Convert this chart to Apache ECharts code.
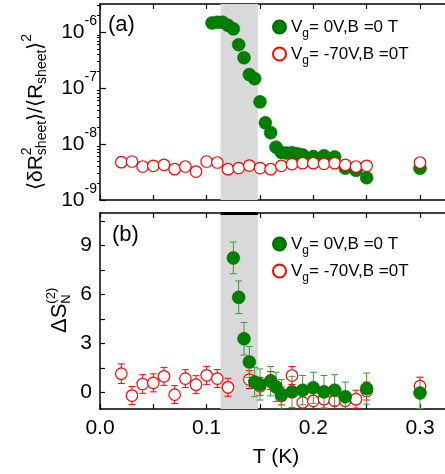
<!DOCTYPE html>
<html>
<head>
<meta charset="utf-8">
<script src="https://cdn.jsdelivr.net/npm/echarts@6/dist/echarts.min.js"></script>
<style>
  html, body { margin: 0; padding: 0; overflow: hidden; background: #fff; }
  #chart { width: 460px; height: 474px; }
</style>
</head>
<body>
<div id="chart"></div>
<script>
// ---- (a) normalized variance of the sheet-resistance noise ----
const tempA_Vg0 = [0.105, 0.11, 0.115, 0.12, 0.125, 0.13, 0.135, 0.14, 0.145, 0.15, 0.155, 0.16, 0.165,
  0.17, 0.175, 0.18, 0.185, 0.19, 0.2, 0.21, 0.22, 0.23, 0.24, 0.25, 0.3];
const varA_Vg0 = [1.47e-6, 1.51e-6, 1.51e-6, 1.33e-6, 1.15e-6, 6.0e-7, 3.5e-7, 1.75e-7, 1.48e-7, 5.7e-8, 2.4e-8, 1.6e-8, 8.8e-9,
  7.1e-9, 6.9e-9, 7.0e-9, 6.7e-9, 6.4e-9, 6.0e-9, 6.2e-9, 5.9e-9, 3.7e-9, 3.4e-9, 2.5e-9, 3.7e-9];

const tempA_Vg70 = [0.02, 0.03, 0.04, 0.05, 0.06, 0.07, 0.08, 0.09, 0.10, 0.11, 0.12, 0.13, 0.14,
  0.15, 0.16, 0.17, 0.18, 0.19, 0.20, 0.21, 0.22, 0.23, 0.24, 0.25, 0.30];
const varA_Vg70 = [4.75e-9, 4.88e-9, 3.97e-9, 4.09e-9, 4.26e-9, 3.56e-9, 3.97e-9, 3.23e-9, 4.88e-9, 4.68e-9, 3.56e-9, 3.72e-9, 4.13e-9,
  3.72e-9, 3.56e-9, 4.09e-9, 4.38e-9, 4.56e-9, 4.56e-9, 4.44e-9, 4.56e-9, 4.26e-9, 3.97e-9, 4.09e-9, 4.68e-9];

// ---- (b) second spectrum, with error bars ----
const tempB_Vg0 = [0.125, 0.13, 0.135, 0.14, 0.145, 0.15, 0.16, 0.165, 0.17, 0.18, 0.19, 0.2, 0.21, 0.22, 0.23, 0.25, 0.3];
const s2B_Vg0 = [8.25, 5.84, 3.3, 1.88, 0.65, 0.5, 0.7, 0.35, -0.1, 0.05, 0.15, 0.3, 0.05, 0.15, -0.25, 0.25, -0.02];
const errB_Vg0 = [0.97, 1.0, 1.0, 0.95, 0.9, 0.95, 0.9, 0.9, 0.9, 0.95, 0.9, 0.95, 1.0, 0.95, 0.9, 0.95, 0.95];

const tempB_Vg70 = [0.02, 0.03, 0.04, 0.05, 0.06, 0.07, 0.08, 0.09, 0.10, 0.11, 0.12, 0.14,
  0.15, 0.16, 0.17, 0.18, 0.19, 0.20, 0.21, 0.22, 0.23, 0.24, 0.25, 0.30];
const s2B_Vg70 = [1.16, -0.18, 0.53, 0.6, 1.0, -0.12, 0.86, 0.49, 1.06, 0.86, 0.33, 0.8,
  0.39, 0.75, -0.2, 1.05, -0.6, -0.5, -0.4, -0.5, -0.5, -0.4, 0.1, 0.4];
const errB_Vg70 = [0.6, 0.55, 0.57, 0.55, 0.55, 0.55, 0.55, 0.55, 0.55, 0.55, 0.55, 0.55,
  0.55, 0.55, 0.55, 0.55, 0.55, 0.55, 0.55, 0.55, 0.55, 0.55, 0.55, 0.55];

// ---- axes ----
const xMin = 0, xMax = 0.33;
const xTickValues = [0, 0.05, 0.1, 0.15, 0.2, 0.25, 0.3];
const xLabelValues = [0, 0.1, 0.2, 0.3];
const logMin = 1e-9, logMax = 3.2e-6;
const logLabelValues = [1e-9, 1e-8, 1e-7, 1e-6];
const s2Min = -1, s2Max = 11;
const s2LabelValues = [0, 3, 6, 9];
const s2TickValues = [0, 1.5, 3, 4.5, 6, 7.5, 9, 10.5];

// shaded transition window (K)
const bandStart = 0.113, bandEnd = 0.148;

const nameVg0 = 'Vg = 0V, B = 0T';
const nameVg70 = 'Vg = -70V, B = 0T';

const fontFamily = '"Liberation Sans", Arial, sans-serif';
const green = '#008000';
const greenBar = '#3c9a3c';
const red = '#ff0000';

// minor decade ticks 2..9 for the log axis
const logMinorValues = [];
for (let e = -9; e <= -6; e++) {
  for (let m = 2; m <= 9; m++) {
    const v = m * Math.pow(10, e);
    if (v <= logMax) logMinorValues.push(v);
  }
}

const zip = (xs, ys) => xs.map((x, i) => [x, ys[i]]);
const zipErr = (xs, ys, es) => xs.map((x, i) => [x, ys[i] - es[i], ys[i] + es[i]]);

const axisLineStyle = { color: '#000', width: 1.5 };
const tickLineStyle = { color: '#000', width: 1.2 };

function xAxisFor(gridIndex, position, withLabels) {
  return {
    type: 'value', gridIndex, position, min: xMin, max: xMax,
    axisLine: { show: true, onZero: false, lineStyle: axisLineStyle },
    axisTick: { show: true, inside: true, length: 5, customValues: xTickValues, lineStyle: tickLineStyle },
    axisLabel: withLabels ? {
      show: true, customValues: xLabelValues, formatter: v => v.toFixed(1),
      color: '#000', fontSize: 21, fontFamily, margin: 9
    } : { show: false },
    splitLine: { show: false },
    name: withLabels ? 'T (K)' : '',
    nameLocation: 'middle', nameGap: 38,
    nameTextStyle: { color: '#000', fontSize: 21, fontFamily }
  };
}

function errorBars(color) {
  return function (params, api) {
    const x = api.value(0);
    const lo = api.coord([x, api.value(1)]);
    const hi = api.coord([x, api.value(2)]);
    const hw = 3.5;
    const style = { stroke: color, lineWidth: 1, fill: null };
    return {
      type: 'group',
      children: [
        { type: 'line', shape: { x1: lo[0], y1: lo[1], x2: hi[0], y2: hi[1] }, style },
        { type: 'line', shape: { x1: lo[0] - hw, y1: lo[1], x2: lo[0] + hw, y2: lo[1] }, style },
        { type: 'line', shape: { x1: hi[0] - hw, y1: hi[1], x2: hi[0] + hw, y2: hi[1] }, style }
      ]
    };
  };
}

// text composed of pieces with stacked super/subscripts, rotated to read upward
const measure = document.createElement('canvas').getContext('2d');
function rotatedLabel(parts, originX, originY) {
  let cursor = 0, stacked = 0;
  const children = [];
  parts.forEach(p => {
    const font = p.size + 'px ' + fontFamily;
    measure.font = font;
    const w = measure.measureText(p.text).width;
    children.push({
      type: 'text', x: cursor, y: p.dy || 0,
      style: { text: p.text, font, fill: '#000', align: 'left', verticalAlign: 'middle',
               textAlign: 'left', textVerticalAlign: 'middle' }
    });
    if (p.stack) { stacked = Math.max(stacked, w); }
    else { cursor += Math.max(w, stacked); stacked = 0; }
  });
  return { type: 'group', x: originX, y: originY, rotation: Math.PI / 2, children };
}

const legendRich = {
  v: { fontSize: 17, fontFamily, color: '#000', lineHeight: 20 },
  g: { fontSize: 12, fontFamily, color: '#000', lineHeight: 12, padding: [14, 0, 0, 0] }
};
const legendLabels = {};
legendLabels[nameVg0] = '{v|V}{g|g}{v|= 0V,B =0 T}';
legendLabels[nameVg70] = '{v|V}{g|g}{v|= -70V,B =0T}';

function legendFor(top) {
  return {
    orient: 'vertical', left: 267, top, itemWidth: 13, itemHeight: 13, itemGap: 1,
    icon: 'circle', selectedMode: false,
    data: [nameVg0, nameVg70],
    formatter: n => legendLabels[n],
    textStyle: { rich: legendRich }
  };
}

function bandSeries(xAxisIndex, yAxisIndex, edgeTop) {
  const s = {
    type: 'line', xAxisIndex, yAxisIndex, data: [], z: 1, silent: true,
    markArea: { silent: true, itemStyle: { color: '#d9d9d9' }, data: [[{ xAxis: bandStart }, { xAxis: bandEnd }]] }
  };
  if (edgeTop !== undefined) {
    // darker rim where the shaded window meets the frame
    s.markLine = {
      silent: true, symbol: 'none', label: { show: false },
      lineStyle: { color: '#000', width: 3, type: 'solid' },
      data: [[{ coord: [bandStart, edgeTop] }, { coord: [bandEnd, edgeTop] }]]
    };
  }
  return s;
}

const option = {
  backgroundColor: '#fff',
  animation: false,
  grid: [
    { left: 100, top: 4, width: 352, height: 196 },
    { left: 100, top: 213, width: 352, height: 196 }
  ],
  xAxis: [
    xAxisFor(0, 'bottom', false),
    xAxisFor(0, 'top', false),
    xAxisFor(1, 'bottom', true),
    xAxisFor(1, 'top', false)
  ],
  yAxis: [
    {
      type: 'log', logBase: 10, gridIndex: 0, min: logMin, max: logMax,
      axisLine: { show: true, lineStyle: axisLineStyle },
      axisTick: { show: true, inside: true, length: 6, customValues: logLabelValues, lineStyle: tickLineStyle },
      axisLabel: {
        customValues: logLabelValues, margin: 3,
        formatter: v => '{b|10}{s|' + Math.round(Math.log10(v)) + '}',
        rich: {
          b: { fontSize: 21, fontFamily, color: '#000' },
          s: { fontSize: 14, fontFamily, color: '#000', padding: [0, 0, 22, 0] }
        }
      },
      splitLine: { show: false }
    },
    {
      type: 'log', logBase: 10, gridIndex: 0, min: logMin, max: logMax,
      axisLine: { show: false },
      axisTick: { show: true, inside: true, length: 3, customValues: logMinorValues, lineStyle: { color: '#000', width: 1 } },
      axisLabel: { show: false },
      splitLine: { show: false }
    },
    {
      type: 'value', gridIndex: 1, min: s2Min, max: s2Max,
      axisLine: { show: true, onZero: false, lineStyle: axisLineStyle },
      axisTick: { show: true, inside: true, length: 5, customValues: s2TickValues, lineStyle: tickLineStyle },
      axisLabel: { customValues: s2LabelValues, margin: 8, color: '#000', fontSize: 21, fontFamily },
      splitLine: { show: false }
    }
  ],
  legend: [legendFor(9), legendFor(226)],
  graphic: [
    { type: 'text', left: 108, top: 14, style: { text: '(a)', font: '22px ' + fontFamily, fill: '#000' } },
    { type: 'text', left: 112, top: 224, style: { text: '(b)', font: '22px ' + fontFamily, fill: '#000' } },
    rotatedLabel([
      { text: '⟨δR', size: 21 },
      { text: '2', size: 14, dy: -9, stack: true },
      { text: 'sheet', size: 14, dy: 6 },
      { text: '⟩/⟨R', size: 21 },
      { text: 'sheet', size: 14, dy: 6 },
      { text: '⟩', size: 21 },
      { text: '2', size: 14, dy: -9 }
    ], 36, 190),
    rotatedLabel([
      { text: 'ΔS', size: 22 },
      { text: '(2)', size: 13, dy: -9, stack: true },
      { text: 'N', size: 13, dy: 6 }
    ], 60, 333)
  ],
  series: [
    // (a)
    bandSeries(0, 0),
    {
      name: nameVg0, type: 'scatter', xAxisIndex: 0, yAxisIndex: 0, z: 3,
      symbol: 'circle', symbolSize: 13,
      itemStyle: { color: green, borderColor: '#006a00', borderWidth: 0.5, opacity: 1 },
      data: zip(tempA_Vg0, varA_Vg0)
    },
    {
      name: nameVg70, type: 'scatter', xAxisIndex: 0, yAxisIndex: 0, z: 4,
      symbol: 'circle', symbolSize: 11.5,
      itemStyle: { color: '#fff', borderColor: red, borderWidth: 1.2, opacity: 1 },
      data: zip(tempA_Vg70, varA_Vg70)
    },
    // (b)
    bandSeries(2, 2, s2Max),
    {
      type: 'custom', xAxisIndex: 2, yAxisIndex: 2, z: 3, silent: true, clip: true,
      renderItem: errorBars(red), encode: { x: 0, y: [1, 2] },
      data: zipErr(tempB_Vg70, s2B_Vg70, errB_Vg70)
    },
    {
      name: nameVg70, type: 'scatter', xAxisIndex: 2, yAxisIndex: 2, z: 3,
      symbol: 'circle', symbolSize: 11.5, clip: true,
      itemStyle: { color: '#fff', borderColor: red, borderWidth: 1.2, opacity: 1 },
      data: zip(tempB_Vg70, s2B_Vg70)
    },
    {
      type: 'custom', xAxisIndex: 2, yAxisIndex: 2, z: 4, silent: true, clip: true,
      renderItem: errorBars(greenBar), encode: { x: 0, y: [1, 2] },
      data: zipErr(tempB_Vg0, s2B_Vg0, errB_Vg0)
    },
    {
      name: nameVg0, type: 'scatter', xAxisIndex: 2, yAxisIndex: 2, z: 4,
      symbol: 'circle', symbolSize: 13, clip: true,
      itemStyle: { color: green, borderColor: '#006a00', borderWidth: 0.5, opacity: 1 },
      data: zip(tempB_Vg0, s2B_Vg0)
    }
  ]
};

const chart = echarts.init(document.getElementById('chart'), null, { renderer: 'canvas' });
chart.setOption(option);
</script>
</body>
</html>
